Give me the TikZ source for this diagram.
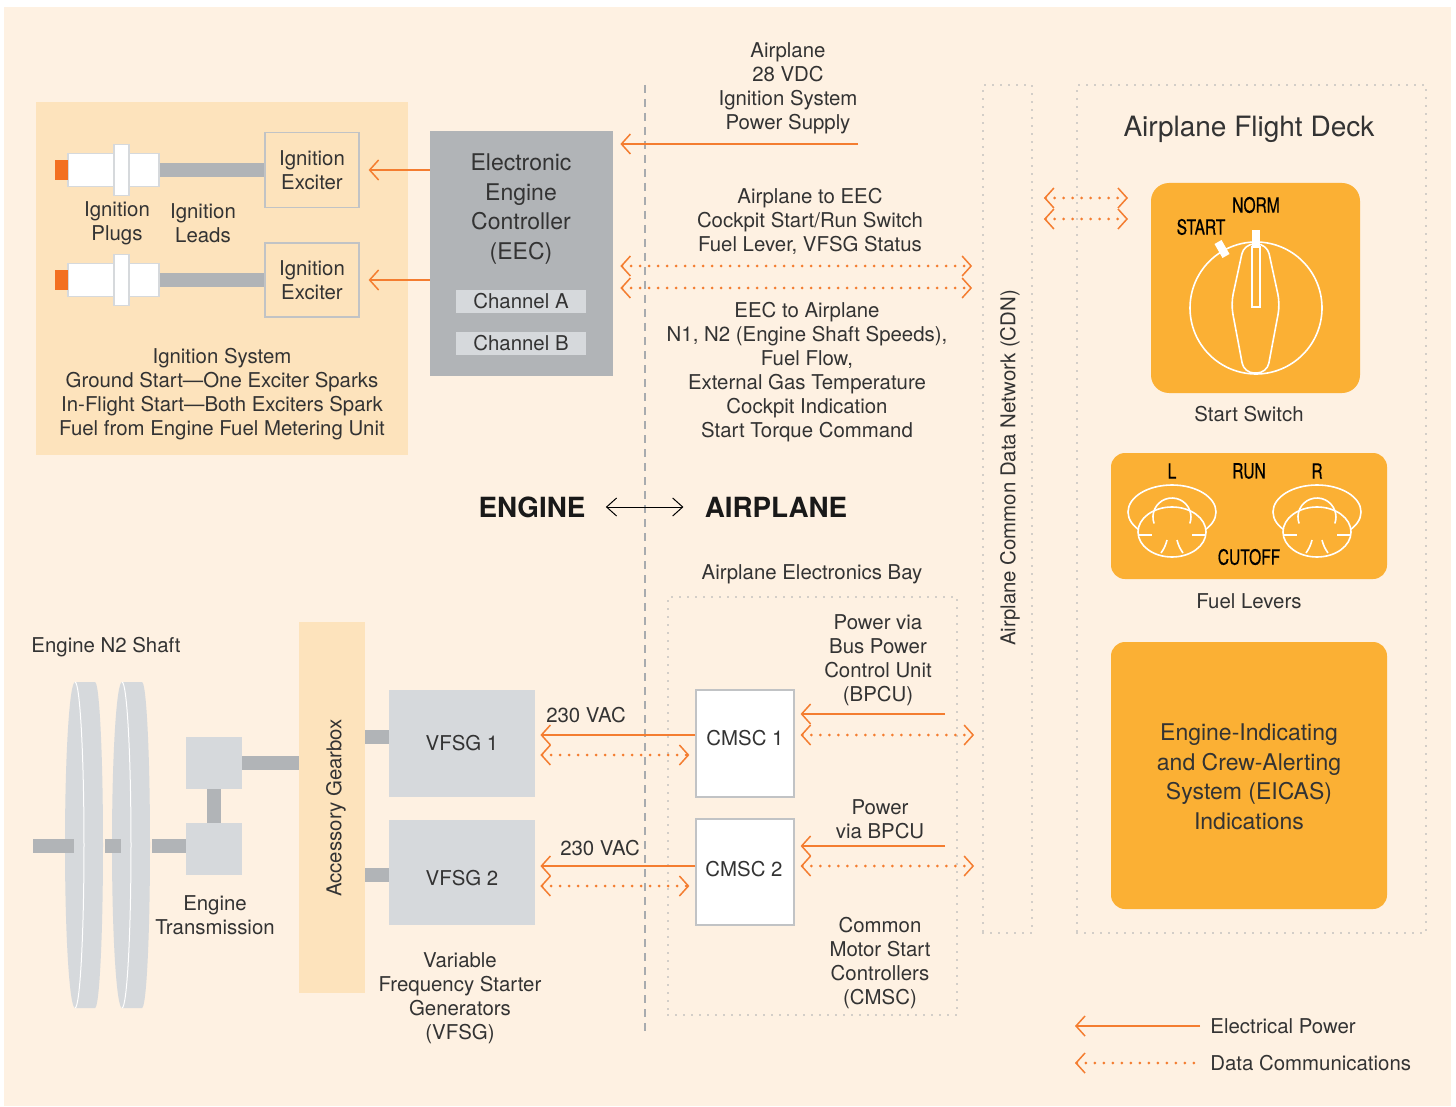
\documentclass[tikz,border=0pt]{standalone}
\usepackage{fontspec}
\setmainfont{TeX Gyre Heros}
\newfontfamily\condfont[FakeStretch=0.74,FakeBold=0.6]{TeX Gyre Heros}
\usetikzlibrary{arrows.meta}

\definecolor{cream}{HTML}{FEF1E2}
\definecolor{peach}{HTML}{FDE3BC}
\definecolor{eecgray}{HTML}{B1B4B7}
\definecolor{paleg}{HTML}{D6D9DC}
\definecolor{deckorange}{HTML}{FBB034}
\definecolor{linkorange}{HTML}{F47D30}
\definecolor{tiporange}{HTML}{F37021}
\definecolor{txtgray}{HTML}{333333}
\definecolor{dotgray}{HTML}{A8ABAE}

\tikzset{
  >={Straight Barb[length=4.5pt,width=10pt,line width=0.75pt]},
  every node/.style={font=\fontsize{10.2}{12}\selectfont,text=txtgray,align=center,inner sep=0pt},
  bigtxt/.style={font=\fontsize{11.5}{14.75}\selectfont},
  lbltxt/.style={font=\condfont\fontsize{10.5}{12}\selectfont,text=black},
  pwr/.style={draw=linkorange,line width=0.75pt,->},
  data/.style={draw=linkorange,line width=1.5pt,line cap=round,dash pattern=on 0pt off 4.5pt,<->},
  dotbox/.style={draw=dotgray,line width=0.9pt,line cap=round,dash pattern=on 0pt off 4pt},
  bar/.style={draw=eecgray,line width=7pt},
  knob/.style={draw=white,line width=0.8pt},
}

\begin{document}
\begin{tikzpicture}[x=0.5pt,y=0.5pt,yscale=-1]
\useasboundingbox (0,0) rectangle (1456,1107);
\fill[white] (0,0) rectangle (1456,1107);
\fill[cream] (4,7) rectangle (1451,1106);

% Divider engine / airplane
\coordinate (divtop) at (645,85);
\coordinate (divbot) at (645,1035);
\draw[dotgray,line width=0.6pt,dash pattern=on 4pt off 3pt] (divtop) -- (divbot);

%Shape: Ignition panel
\draw (222,278.5) node (igpanel) [fill=peach,minimum width=186pt,minimum height=176.5pt] {};
%Shape: Exciters
\draw (312,170) node (exc1) [fill=peach,draw=eecgray!80,line width=0.6pt,minimum width=47pt,minimum height=37.5pt] {Ignition\\Exciter};
\draw (312,280) node (exc2) [fill=peach,draw=eecgray!80,line width=0.6pt,minimum width=47pt,minimum height=37pt] {Ignition\\Exciter};
%Shape: Plugs
\draw (113.5,170) node (plug1) [fill=white,draw=paleg,line width=0.6pt,minimum width=45.5pt,minimum height=16.5pt] {};
\draw (113.5,280) node (plug2) [fill=white,draw=paleg,line width=0.6pt,minimum width=45.5pt,minimum height=16.5pt] {};
\draw[bar] (plug1.east) -- (exc1.west);
\draw[bar] (plug2.east) -- (exc2.west);
\draw (121.5,170) node (flange1) [fill=white,draw=paleg,line width=0.6pt,minimum width=7.5pt,minimum height=25.5pt] {};
\draw (121.5,280) node (flange2) [fill=white,draw=paleg,line width=0.6pt,minimum width=7.5pt,minimum height=25.5pt] {};
\draw (61.5,170) node (tip1) [fill=tiporange,minimum width=6.5pt,minimum height=10pt] {};
\draw (61.5,280) node (tip2) [fill=tiporange,minimum width=6.5pt,minimum height=10pt] {};

% Text Node
\draw (117,223) node (plugtxt) {Ignition\\Plugs};
% Text Node
\draw (203,223) node (leadtxt) {Ignition\\Leads};
% Text Node
\draw (222,394) node (igsys) {Ignition System\\Ground Start---One Exciter Sparks\\In-Flight Start---Both Exciters Spark\\Fuel from Engine Fuel Metering Unit};

%Shape: EEC
\draw (521.5,253.5) node (eec) [fill=eecgray,minimum width=91.5pt,minimum height=122.5pt] {};
% Text Node
\draw (521,209) node (eectxt) [bigtxt] {Electronic\\Engine\\Controller\\(EEC)};
\draw (521,301.5) node (chA) [fill=paleg,minimum width=65pt,minimum height=11.5pt] {Channel A};
\draw (521,343.5) node (chB) [fill=paleg,minimum width=65pt,minimum height=11.5pt] {Channel B};
\draw[pwr,shorten >=4.5pt] (eec.west |- exc1.east) -- (exc1.east);
\draw[pwr,shorten >=4.5pt] (eec.west |- exc2.east) -- (exc2.east);

%Shape: CDN and flight deck
\draw (1007.5,509) node (cdn) [dotbox,minimum width=24.5pt,minimum height=424pt] {};
\draw (1010,468) node (cdntxt) [rotate=90] {Airplane Common Data Network (CDN)};
\draw (1251.5,509) node (deck) [dotbox,minimum width=174.5pt,minimum height=424pt] {};
% Text Node
\draw (1249,129) node (decktxt) [font=\fontsize{14}{16}\selectfont] {Airplane Flight Deck};

% Text Node
\draw (788,88) node (psutxt) {Airplane\\28 VDC\\Ignition System\\Power Supply};
\coordinate (psu) at (858,144);
\draw[pwr,shorten >=3.5pt] (psu) -- (psu -| eec.east);
% Text Node
\draw (810,221) node (a2e) {Airplane to EEC\\Cockpit Start/Run Switch\\Fuel Lever, VFSG Status};
\coordinate (row1) at (800,266);
\coordinate (row2) at (800,288);
\draw[data,shorten <=3.5pt,shorten >=5pt] (row1 -| eec.east) -- (row1 -| cdn.west);
\draw[data,shorten <=3.5pt,shorten >=5pt] (row2 -| eec.east) -- (row2 -| cdn.west);
% Text Node
\draw (807,372) node (e2a) {EEC to Airplane\\N1, N2 (Engine Shaft Speeds),\\Fuel Flow,\\External Gas Temperature\\Cockpit Indication\\Start Torque Command};

\coordinate (dk1) at (1128,198);
\coordinate (dk2) at (1128,219);
\draw[data,shorten <=5.5pt] (dk1 -| cdn.east) -- (dk1);
\draw[data,shorten <=5.5pt] (dk2 -| cdn.east) -- (dk2);

%Shape: Start switch
\draw (1255.5,288) node (sw) [fill=deckorange,rounded corners=9pt,minimum width=104.5pt,minimum height=105pt] {};
\draw[knob] (1256,308) circle [radius=66];
\draw[knob,rounded corners=5pt] (1244,244) -- (1231,304) -- (1244,373) -- (1267,373) -- (1280,304) -- (1267,244) -- cycle;
\draw[knob] (1252,247) rectangle (1260,307);
\fill[white] (1252,230) rectangle (1260,247);
\fill[white] (1221.5,240) -- (1214.5,244) -- (1222.5,258) -- (1229.5,254) -- cycle;
\draw (1256,205) node (norm) [lbltxt] {NORM};
\draw (1201,227) node (start) [lbltxt] {START};
% Text Node
\draw (1249,414) node (swtxt) {Start Switch};

%Shape: Fuel levers
\draw (1249,516) node (fuel) [fill=deckorange,rounded corners=7pt,minimum width=138pt,minimum height=63pt] {};
\foreach \cx in {1172,1317} {
  \draw[knob] (\cx,512) ellipse [x radius=44,y radius=27];
  \filldraw[fill=deckorange,knob] (\cx,532) ellipse [x radius=34,y radius=25];
  \draw[knob] (\cx-17.9,523.5) arc [start angle=160,end angle=380,radius=19];
  \draw[knob] (\cx-33,535) -- (\cx-20,535) (\cx+20,535) -- (\cx+33,535);
  \draw[knob] (\cx-5,540) to[bend right=10] (\cx-11,553) (\cx+5,540) to[bend left=10] (\cx+11,553);
}
\draw (1172,471) node (lvL) [lbltxt] {L};
\draw (1249,471) node (run) [lbltxt] {RUN};
\draw (1317,471) node (lvR) [lbltxt] {R};
\draw (1249,557) node (cutoff) [lbltxt] {CUTOFF};
% Text Node
\draw (1249,601) node (fueltxt) {Fuel Levers};

%Shape: EICAS
\draw (1249,775.5) node (eicas) [fill=deckorange,rounded corners=7pt,minimum width=138pt,minimum height=133.5pt] {};
\draw (1249,777) node (eicastxt) [bigtxt] {Engine-Indicating\\and Crew-Alerting\\System (EICAS)\\Indications};

% ENGINE / AIRPLANE
\draw (532,507) node (eng) [font=\fontsize{13.9}{16}\selectfont\bfseries,text=black!90] {ENGINE};
\draw (776,507) node (apl) [font=\fontsize{13.9}{16}\selectfont\bfseries,text=black!90] {AIRPLANE};
\draw[black,line width=0.5pt,{Straight Barb[length=5pt,width=9pt,line width=0.5pt]}-{Straight Barb[length=5pt,width=9pt,line width=0.5pt]},shorten <=10pt,shorten >=10.5pt] (eng.east) -- (apl.west);

%Shape: Electronics bay
% Text Node
\draw (812,574) node (baytxt) {Airplane Electronics Bay};
\draw (812.5,806) node (bay) [dotbox,minimum width=144.5pt,minimum height=209pt] {};
\draw (745,743.5) node (cmsc1) [fill=white,draw=eecgray!80,line width=0.6pt,minimum width=49pt,minimum height=53.5pt] {};
\draw (745,738) node (cmsc1txt) {CMSC 1};
\draw (745,872) node (cmsc2) [fill=white,draw=eecgray!80,line width=0.6pt,minimum width=49pt,minimum height=53pt] {};
\draw (744,869) node (cmsc2txt) {CMSC 2};
% Text Node
\draw (878,660) node (bpcu) {Power via\\Bus Power\\Control Unit\\(BPCU)};
% Text Node
\draw (880,819) node (bpcu2) {Power\\via BPCU};
% Text Node
\draw (880,963) node (cmsctxt) {Common\\Motor Start\\Controllers\\(CMSC)};

\coordinate (c1p) at (945,714);
\coordinate (c1d) at (900,735);
\coordinate (c2p) at (945,846);
\coordinate (c2d) at (900,866);
\draw[pwr,shorten >=3pt] (c1p) -- (c1p -| cmsc1.east);
\draw[data,shorten <=3pt,shorten >=4pt] (c1d -| cmsc1.east) -- (c1d -| cdn.west);
\draw[pwr,shorten >=3pt] (c2p) -- (c2p -| cmsc2.east);
\draw[data,shorten <=3pt,shorten >=4pt] (c2d -| cmsc2.east) -- (c2d -| cdn.west);

%Shape: Gearbox and VFSG
\draw (332,807.5) node (agb) [fill=peach,minimum width=33pt,minimum height=185.5pt] {};
\draw (336,808) node (agbtxt) [rotate=90] {Accessory Gearbox};
\draw (462,743.5) node (vfsg1) [fill=paleg,minimum width=73pt,minimum height=53.5pt] {VFSG 1};
\draw (462,872.5) node (vfsg2) [fill=paleg,minimum width=73pt,minimum height=52.5pt] {};
\draw (462,878) node (vfsg2txt) {VFSG 2};
\coordinate (s1) at (380,737);
\coordinate (s2) at (380,875);
\draw[bar] (s1 -| agb.east) -- (s1 -| vfsg1.west);
\draw[bar] (s2 -| agb.east) -- (s2 -| vfsg2.west);
% Text Node
\draw (460,998) node (vfsgtxt) {Variable\\Frequency Starter\\Generators\\(VFSG)};

\coordinate (v1p) at (620,735);
\coordinate (v1d) at (620,755);
\coordinate (v2p) at (620,866);
\coordinate (v2d) at (620,886);
\draw[pwr,shorten >=2.5pt] (v1p -| cmsc1.west) -- (v1p -| vfsg1.east);
\draw[data,shorten <=2.5pt,shorten >=3pt] (v1d -| vfsg1.east) -- (v1d -| cmsc1.west);
\draw[pwr,shorten >=2.5pt] (v2p -| cmsc2.west) -- (v2p -| vfsg2.east);
\draw[data,shorten <=2.5pt,shorten >=3pt] (v2d -| vfsg2.east) -- (v2d -| cmsc2.west);
\draw (586,715) node (vac1) {230 VAC};
\draw (600,848) node (vac2) {230 VAC};

%Shape: N2 shaft discs
\draw (106,647) node (n2txt) {Engine N2 Shaft};
\fill[paleg] (75,682) -- (95,682) arc [start angle=-90,end angle=90,x radius=8,y radius=163] -- (75,1008) arc [start angle=90,end angle=270,x radius=10,y radius=163] -- cycle;
\draw[white,line width=0.5pt] (75,682) arc [start angle=-90,end angle=90,x radius=9,y radius=163];
\fill[paleg] (122,682) -- (142,682) arc [start angle=-90,end angle=90,x radius=8,y radius=163] -- (122,1008) arc [start angle=90,end angle=270,x radius=10,y radius=163] -- cycle;
\draw[white,line width=0.5pt] (122,682) arc [start angle=-90,end angle=90,x radius=9,y radius=163];
\draw (214,763) node (tr1) [fill=paleg,minimum width=28pt,minimum height=26pt] {};
\draw (214,849) node (tr2) [fill=paleg,minimum width=28pt,minimum height=26pt] {};
\coordinate (sh0) at (33,846);
\draw[bar] (sh0) -- (74,846);
\draw[bar] (105,846) -- (121,846);
\draw[bar] (152,846) -- (sh0 -| tr2.west);
\draw[bar] (tr1.south) -- (tr2.north);
\draw[bar] (tr1.east) -- (tr1.east -| agb.west);
% Text Node
\draw (215,915) node (trtxt) {Engine\\Transmission};

% Legend
\draw (1210,1026) node (lgpwr) [anchor=west] {Electrical Power};
\draw (1210,1063) node (lgdata) [anchor=west] {Data Communications};
\coordinate (lgend) at (1075,1027);
\draw[pwr,shorten <=5pt] (lgpwr.west) -- (lgpwr.west -| lgend);
\draw[data,<-,shorten >=5pt] (lgdata.west -| lgend) -- (lgdata.west);
\end{tikzpicture}
\end{document}
